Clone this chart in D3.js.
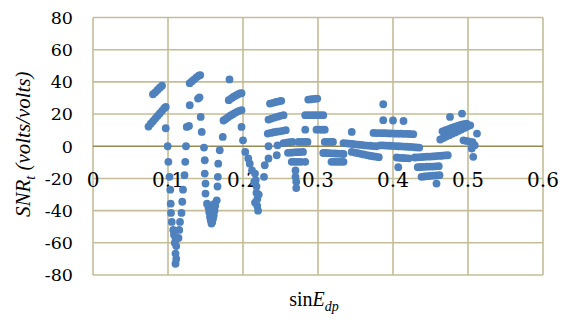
<!DOCTYPE html>
<html>
<head>
<meta charset="utf-8">
<script src="https://cdn.jsdelivr.net/npm/d3@7"></script>
<style>
  html, body { margin: 0; padding: 0; background: #fff; }
  svg { display: block; }
</style>
</head>
<body>
<svg id="chart" width="566" height="323"></svg>
<script>
// axis ticks
const xTicks = [0, 0.1, 0.2, 0.3, 0.4, 0.5, 0.6];
const yTicks = [-80, -60, -40, -20, 0, 20, 40, 60, 80];

// points, grouped by the arcs they form: [sinE, SNR]
const arc1 = [
  [0.080, 32.3], [0.083, 33.5], [0.086, 35], [0.089, 36.4], [0.092, 37.6],
  [0.074, 12.2], [0.077, 14], [0.080, 15.6], [0.083, 17.2], [0.086, 18.8], [0.089, 20.4],
  [0.092, 22], [0.095, 23.6], [0.097, 24.4],
  [0.097, 11.2], [0.0996, 0], [0.1005, -9.7], [0.102, -19], [0.103, -27], [0.1036, -35.7],
  [0.104, -41.4], [0.105, -47], [0.107, -52], [0.108, -55], [0.110, -57], [0.109, -60],
  [0.111, -62], [0.110, -66.7], [0.111, -70], [0.110, -73],
  [0.124, 0], [0.123, -9.7], [0.122, -18], [0.120, -27], [0.119, -34.5], [0.118, -41.4],
  [0.116, -47], [0.115, -52], [0.114, -57], [0.125, 12], [0.128, 12.6], [0.129, 25.5]
];
const arc2 = [
  [0.129, 39.2], [0.132, 40.4], [0.135, 41.6], [0.138, 42.8], [0.141, 43.8], [0.143, 44.2],
  [0.140, 29.6], [0.142, 30.4], [0.1436, 18.2], [0.145, 8.9],
  [0.148, -0.8], [0.149, -8.7], [0.149, -17], [0.150, -23.2], [0.150, -29.4], [0.152, -35.7],
  [0.154, -38], [0.155, -41], [0.156, -44], [0.157, -46], [0.158, -48], [0.159, -47],
  [0.160, -45], [0.161, -43], [0.162, -40], [0.163, -37], [0.157, -40], [0.159, -42], [0.161, -36],
  [0.165, -33.6], [0.166, -25], [0.1665, -19], [0.167, -10.8], [0.169, -2.5], [0.173, 5.8]
];
const arc3 = [
  [0.174, 16], [0.177, 17], [0.180, 18], [0.183, 19], [0.186, 19.8], [0.189, 20.6],
  [0.192, 21.4], [0.195, 22], [0.198, 22.4],
  [0.181, 28.6], [0.184, 29.6], [0.187, 30.6], [0.190, 31.4], [0.193, 32.2], [0.196, 32.8], [0.198, 33],
  [0.182, 41.5],
  [0.198, 12], [0.200, 3.7], [0.203, -3.5], [0.207, -7.6], [0.209, -10.8], [0.212, -15],
  [0.216, -17], [0.217, -21], [0.218, -25], [0.218, -29], [0.219, -33], [0.219, -37], [0.220, -40],
  [0.215, -22], [0.221, -30], [0.216, -35]
];
const arc4 = [
  [0.229, -11.8], [0.228, -19], [0.234, -7.6], [0.234, 0], [0.246, 0.6], [0.245, -5.6],
  [0.233, 7.9], [0.237, 8.3], [0.241, 8.7], [0.245, 9.0], [0.249, 9.3], [0.253, 9.6], [0.257, 10],
  [0.234, 16.6], [0.238, 17.2], [0.242, 17.8], [0.246, 18.4], [0.250, 18.9], [0.254, 19.3],
  [0.236, 26.5], [0.240, 27], [0.244, 27.5], [0.248, 27.9], [0.251, 28.2],
  [0.254, 2], [0.258, 2.3], [0.262, 2.5], [0.266, 2.7],
  [0.260, -4.1], [0.264, -4], [0.268, -3.8], [0.272, -3.7], [0.276, -3.6], [0.280, -3.5],
  [0.265, -9.7], [0.269, -9.7], [0.273, -9.7], [0.277, -9.7], [0.283, -9.7],
  [0.270, -15], [0.270, -19], [0.271, -22], [0.271, -26]
];
const arc5 = [
  [0.274, 2.7], [0.278, 2.7], [0.282, 2.7], [0.286, 2.7],
  [0.283, 10.3], [0.298, 10.3], [0.302, 10.3], [0.306, 10.3], [0.309, 10.3],
  [0.283, 19.3], [0.287, 19.3], [0.291, 19.3], [0.295, 19.3], [0.299, 19.3], [0.303, 19.3], [0.307, 19.3],
  [0.287, 29], [0.291, 29.2], [0.295, 29.4], [0.299, 29.6],
  [0.309, 2.7], [0.313, 2.7], [0.317, 2.7], [0.320, 2.7],
  [0.307, -4.2], [0.311, -4.2], [0.315, -4.3], [0.319, -4.4], [0.323, -4.5], [0.327, -4.6],
  [0.331, -4.7], [0.334, -4.8],
  [0.318, -9.7], [0.322, -9.7], [0.326, -9.7], [0.330, -9.7], [0.334, -9.7]
];
const arc6 = [
  [0.334, 2], [0.338, 1.8], [0.342, 1.6], [0.346, 1.4], [0.350, 1.2], [0.354, 1], [0.358, 0.8],
  [0.362, 0.6], [0.366, 0.4], [0.370, 0.3], [0.374, 0.1], [0.378, 0],
  [0.345, -3.5], [0.349, -3.9], [0.353, -4.3], [0.357, -4.7], [0.361, -5.1], [0.365, -5.5],
  [0.369, -5.9], [0.373, -6.2], [0.377, -6.5], [0.381, -6.8],
  [0.345, 8.9]
];
const arc7 = [
  [0.387, 26.1], [0.387, 16.2], [0.400, 16], [0.414, 15.7],
  [0.374, 8.3], [0.378, 8.2], [0.382, 8.2], [0.386, 8.1], [0.390, 8.1], [0.394, 8.0], [0.398, 8.0],
  [0.402, 7.9], [0.406, 7.8], [0.410, 7.8], [0.414, 7.7], [0.418, 7.7], [0.422, 7.6], [0.427, 7.5],
  [0.383, 0.6], [0.387, 0.5], [0.391, 0.4], [0.395, 0.3], [0.399, 0.2], [0.403, 0.1], [0.407, 0],
  [0.411, -0.1], [0.415, -0.2], [0.419, -0.3], [0.423, -0.4], [0.427, -0.5], [0.431, -0.7], [0.435, -0.8],
  [0.405, -7], [0.409, -7.2], [0.413, -7.3], [0.417, -7.4], [0.421, -7.5], [0.407, -13]
];
const arc8 = [
  [0.429, -7], [0.433, -6.9], [0.437, -6.8], [0.441, -6.6], [0.445, -6.5], [0.449, -6.4],
  [0.453, -6.3], [0.457, -6.1], [0.461, -6], [0.465, -5.9], [0.469, -5.7], [0.473, -5.6],
  [0.433, -13], [0.437, -12.9], [0.441, -12.8], [0.445, -12.7], [0.449, -12.6], [0.453, -12.6],
  [0.457, -12.5], [0.461, -12.4],
  [0.438, -19], [0.442, -18.8], [0.446, -18.6], [0.450, -18.4], [0.454, -18.3], [0.458, -18.1],
  [0.462, -18], [0.458, -23.2],
  [0.463, 4.2], [0.467, 5.1], [0.471, 6], [0.475, 6.9], [0.479, 7.8], [0.483, 8.6], [0.487, 9.5],
  [0.491, 10.4], [0.495, 11.3], [0.499, 12.2], [0.503, 13],
  [0.466, 9.3], [0.470, 10], [0.474, 10.7], [0.478, 11.4], [0.482, 12], [0.486, 12.6], [0.490, 13.2],
  [0.494, 13.7], [0.498, 14.1],
  [0.476, 18.2], [0.492, 20.3], [0.512, 7.9],
  [0.505, -1.4], [0.509, 0.6], [0.507, -6.6],
  [0.494, 3.7], [0.498, 3.3], [0.502, 2.9], [0.506, 2.5]
];

const points = [].concat(arc1, arc2, arc3, arc4, arc5, arc6, arc7, arc8);

const margin = { top: 17.5, right: 23, bottom: 48, left: 93 };
const width = 566;
const height = 323;
const plotW = width - margin.left - margin.right;
const plotH = height - margin.top - margin.bottom;

const tickFont = 'DejaVu Serif';
const titleFont = "'Liberation Serif', 'Times New Roman', serif";
const gridColor = '#c4bd97';
const zeroColor = '#948a54';
const dotColor = '#4f81bd';

const svg = d3.select('#chart');
const g = svg.append('g').attr('transform', `translate(${margin.left},${margin.top})`);

const x = d3.scaleLinear().domain([0, 0.6]).range([0, plotW]);
const y = d3.scaleLinear().domain([-80, 80]).range([plotH, 0]);

// horizontal grid
g.append('g')
  .selectAll('line')
  .data(yTicks.filter((d) => d !== 0))
  .join('line')
  .attr('x1', 0)
  .attr('x2', plotW)
  .attr('y1', (d) => y(d))
  .attr('y2', (d) => y(d))
  .attr('stroke', gridColor)
  .attr('stroke-width', 1.6);

// vertical grid
g.append('g')
  .selectAll('line')
  .data(xTicks)
  .join('line')
  .attr('x1', (d) => x(d))
  .attr('x2', (d) => x(d))
  .attr('y1', 0)
  .attr('y2', plotH)
  .attr('stroke', gridColor)
  .attr('stroke-width', 1.6);

// zero line (x axis)
g.append('line')
  .attr('x1', 0)
  .attr('x2', plotW)
  .attr('y1', y(0))
  .attr('y2', y(0))
  .attr('stroke', zeroColor)
  .attr('stroke-width', 1.6);

// y tick labels
g.append('g')
  .selectAll('text')
  .data(yTicks)
  .join('text')
  .attr('x', -20)
  .attr('y', (d) => y(d))
  .attr('dy', '0.36em')
  .attr('text-anchor', 'end')
  .attr('font-family', tickFont)
  .attr('font-size', 17.5)
  .attr('fill', '#000')
  .text((d) => d);

// x tick labels, sitting under the zero line
g.append('g')
  .selectAll('text')
  .data(xTicks)
  .join('text')
  .attr('x', (d) => x(d))
  .attr('y', y(0) + 41)
  .attr('text-anchor', 'middle')
  .attr('font-family', tickFont)
  .attr('font-size', 20)
  .attr('fill', '#000')
  .text((d) => d);

// points
g.append('g')
  .selectAll('circle')
  .data(points)
  .join('circle')
  .attr('cx', (d) => x(d[0]))
  .attr('cy', (d) => y(d[1]))
  .attr('r', 3.9)
  .attr('fill', dotColor);

// axis titles
const xt = svg.append('text')
  .attr('x', margin.left + plotW / 2 - 4)
  .attr('y', 306)
  .attr('text-anchor', 'middle')
  .attr('font-family', titleFont)
  .attr('font-size', 20);
xt.append('tspan').text('sin');
xt.append('tspan').attr('font-style', 'italic').text('E');
xt.append('tspan').attr('font-style', 'italic').attr('font-size', 14).attr('dy', 5).text('dp');

const yt = svg.append('text')
  .attr('transform', `translate(30,${margin.top + y(0) - 2}) rotate(-90)`)
  .attr('text-anchor', 'middle')
  .attr('font-family', titleFont)
  .attr('font-style', 'italic')
  .attr('font-size', 21);
yt.append('tspan').text('SNR');
yt.append('tspan').attr('font-size', 14).attr('dy', 5).text('t');
yt.append('tspan').attr('dy', -5).text(' (volts/volts)');
</script>
</body>
</html>
